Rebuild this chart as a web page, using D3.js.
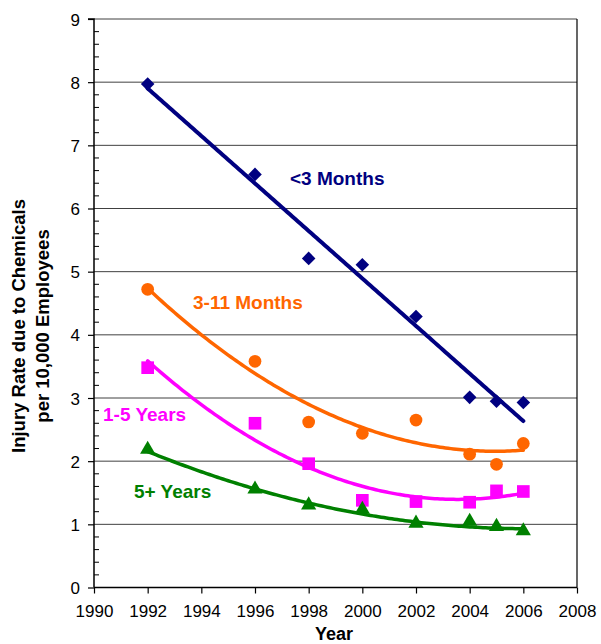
<!DOCTYPE html>
<html>
<head>
<meta charset="utf-8">
<script src="https://cdn.jsdelivr.net/npm/d3@7"></script>
<style>
  html, body { margin: 0; padding: 0; background: #fff; }
  svg { display: block; font-family: "Liberation Sans", Arial, sans-serif; }
</style>
</head>
<body>
<svg id="chart" width="601" height="644"></svg>
<script>
// ---- data ----
const years = [1992, 1996, 1998, 2000, 2002, 2004, 2005, 2006];
const lt3Months   = [7.97, 6.54, 5.21, 5.11, 4.29, 3.01, 2.95, 2.93];
const m3to11      = [4.72, 3.58, 2.62, 2.44, 2.65, 2.11, 1.95, 2.28];
const y1to5       = [3.48, 2.60, 1.96, 1.38, 1.36, 1.35, 1.53, 1.52];
const y5plus      = [2.17, 1.54, 1.29, 1.22, 1.00, 1.03, 0.95, 0.88];
const seriesNames = ["<3 Months", "3-11 Months", "1-5 Years", "5+ Years"];
const xTicks = [1990, 1992, 1994, 1996, 1998, 2000, 2002, 2004, 2006, 2008];
const yTicks = [0, 1, 2, 3, 4, 5, 6, 7, 8, 9];

const series = [
  { name: seriesNames[0], values: lt3Months, color: "#000080", symbol: "diamond", order: 1, label: [290, 185] },
  { name: seriesNames[1], values: m3to11,    color: "#FF6600", symbol: "circle",  order: 2, label: [193, 309] },
  { name: seriesNames[2], values: y1to5,     color: "#FF00FF", symbol: "square",  order: 2, label: [103, 421] },
  { name: seriesNames[3], values: y5plus,    color: "#008000", symbol: "triangle",order: 2, label: [134, 498] }
];

// ---- layout ----
const svg = d3.select("#chart");
const pL = 94, pR = 577, pT = 19, pB = 587.5;
const x = d3.scaleLinear().domain([1990, 2008]).range([pL, pR]);
const y = d3.scaleLinear().domain([0, 9]).range([pB, pT]);

// gridlines
svg.append("g").selectAll("line").data(yTicks.filter(d => d > 0)).join("line")
  .attr("x1", pL).attr("x2", pR)
  .attr("y1", d => y(d)).attr("y2", d => y(d))
  .attr("stroke", "#404040").attr("stroke-width", 1);

// right border
svg.append("line").attr("x1", pR).attr("x2", pR).attr("y1", pT).attr("y2", pB)
  .attr("stroke", "#000").attr("stroke-width", 1.2);

// minor ticks on y (inside)
const minor = d3.range(0, 9.001, 0.2).filter(v => Math.abs(v - Math.round(v)) > 1e-6);
svg.append("g").selectAll("line").data(minor).join("line")
  .attr("x1", pL).attr("x2", pL + 5)
  .attr("y1", d => y(d)).attr("y2", d => y(d))
  .attr("stroke", "#000").attr("stroke-width", 1);

// axes
const yAxis = d3.axisLeft(y).tickValues(yTicks).tickSize(6).tickPadding(8).tickFormat(d3.format("d"));
const gy = svg.append("g").attr("transform", `translate(${pL},0)`).call(yAxis);
gy.select(".domain").attr("stroke", "#000").attr("stroke-width", 1.5).attr("d", `M-6,${pT}H0V${pB}`);
gy.selectAll(".tick line").attr("stroke", "#000").attr("stroke-width", 1.2);
gy.selectAll(".tick text").attr("font-size", 17).attr("fill", "#000")
  .attr("font-family", "Liberation Sans, Arial, sans-serif").attr("dy", "0.36em");

const xAxis = d3.axisBottom(x).tickValues(xTicks).tickSize(6).tickPadding(5).tickFormat(d3.format("d"));
const gx = svg.append("g").attr("transform", `translate(0,${pB})`).call(xAxis);
gx.select(".domain").attr("stroke", "#000").attr("stroke-width", 1.5).attr("d", `M${pL},0H${pR}`);
gx.selectAll(".tick line").attr("stroke", "#000").attr("stroke-width", 1.2);
gx.selectAll(".tick text").attr("font-size", 17).attr("fill", "#000")
  .attr("font-family", "Liberation Sans, Arial, sans-serif").attr("y", 29).attr("dy", 0);

// ---- trendlines (least squares) ----
function fit(xs, ys, order) {
  const n = order + 1;
  const A = Array.from({length: n}, () => new Array(n).fill(0));
  const b = new Array(n).fill(0);
  xs.forEach((xv, i) => {
    const t = xv - 2000;
    for (let r = 0; r < n; r++) {
      b[r] += ys[i] * Math.pow(t, r);
      for (let c = 0; c < n; c++) A[r][c] += Math.pow(t, r + c);
    }
  });
  for (let i = 0; i < n; i++) {
    let p = i;
    for (let k = i + 1; k < n; k++) if (Math.abs(A[k][i]) > Math.abs(A[p][i])) p = k;
    [A[i], A[p]] = [A[p], A[i]]; [b[i], b[p]] = [b[p], b[i]];
    for (let k = i + 1; k < n; k++) {
      const f = A[k][i] / A[i][i];
      for (let c = i; c < n; c++) A[k][c] -= f * A[i][c];
      b[k] -= f * b[i];
    }
  }
  const coef = new Array(n).fill(0);
  for (let i = n - 1; i >= 0; i--) {
    let s = b[i];
    for (let c = i + 1; c < n; c++) s -= A[i][c] * coef[c];
    coef[i] = s / A[i][i];
  }
  return xv => coef.reduce((acc, c, k) => acc + c * Math.pow(xv - 2000, k), 0);
}

const line = d3.line().x(d => x(d[0])).y(d => y(d[1]));
const xs = d3.range(1992, 2006.001, 0.1);
series.forEach(s => {
  const f = fit(years, s.values, s.order);
  svg.append("path")
    .attr("d", line(xs.map(v => [v, f(v)])))
    .attr("fill", "none").attr("stroke", s.color)
    .attr("stroke-width", s.order === 1 ? 4 : 3.5)
    .attr("stroke-linecap", "round");
});

// ---- markers ----
const symbolMap = {
  diamond: d3.symbolSquare, circle: d3.symbolCircle,
  square: d3.symbolSquare, triangle: d3.symbolTriangle
};
const sizeMap = { diamond: 92, circle: 127, square: 160, triangle: 100 };
series.forEach(s => {
  const sym = d3.symbol().type(symbolMap[s.symbol]).size(sizeMap[s.symbol]);
  svg.append("g").selectAll("path").data(years.map((yr, i) => [yr, s.values[i]])).join("path")
    .attr("d", sym)
    .attr("transform", d => `translate(${x(d[0])},${y(d[1])})` +
      (s.symbol === "diamond" ? " rotate(45)" : s.symbol === "triangle" ? " translate(0,-1)" : ""))
    .attr("fill", s.color);
});

// ---- series labels ----
series.forEach(s => {
  svg.append("text").attr("x", s.label[0]).attr("y", s.label[1])
    .attr("fill", s.color).attr("font-size", 19).attr("font-weight", "bold")
    .text(s.name);
});

// ---- axis titles ----
svg.append("text").attr("x", 334).attr("y", 640).attr("text-anchor", "middle")
  .attr("font-size", 18).attr("font-weight", "bold").text("Year");
const yt = svg.append("text").attr("transform", "translate(0,326) rotate(-90)")
  .attr("text-anchor", "middle").attr("font-size", 18.5).attr("font-weight", "bold");
yt.append("tspan").attr("x", 0).attr("y", 25).text("Injury Rate due to Chemicals");
yt.append("tspan").attr("x", 0).attr("y", 49).text("per 10,000 Employees");
</script>
</body>
</html>
